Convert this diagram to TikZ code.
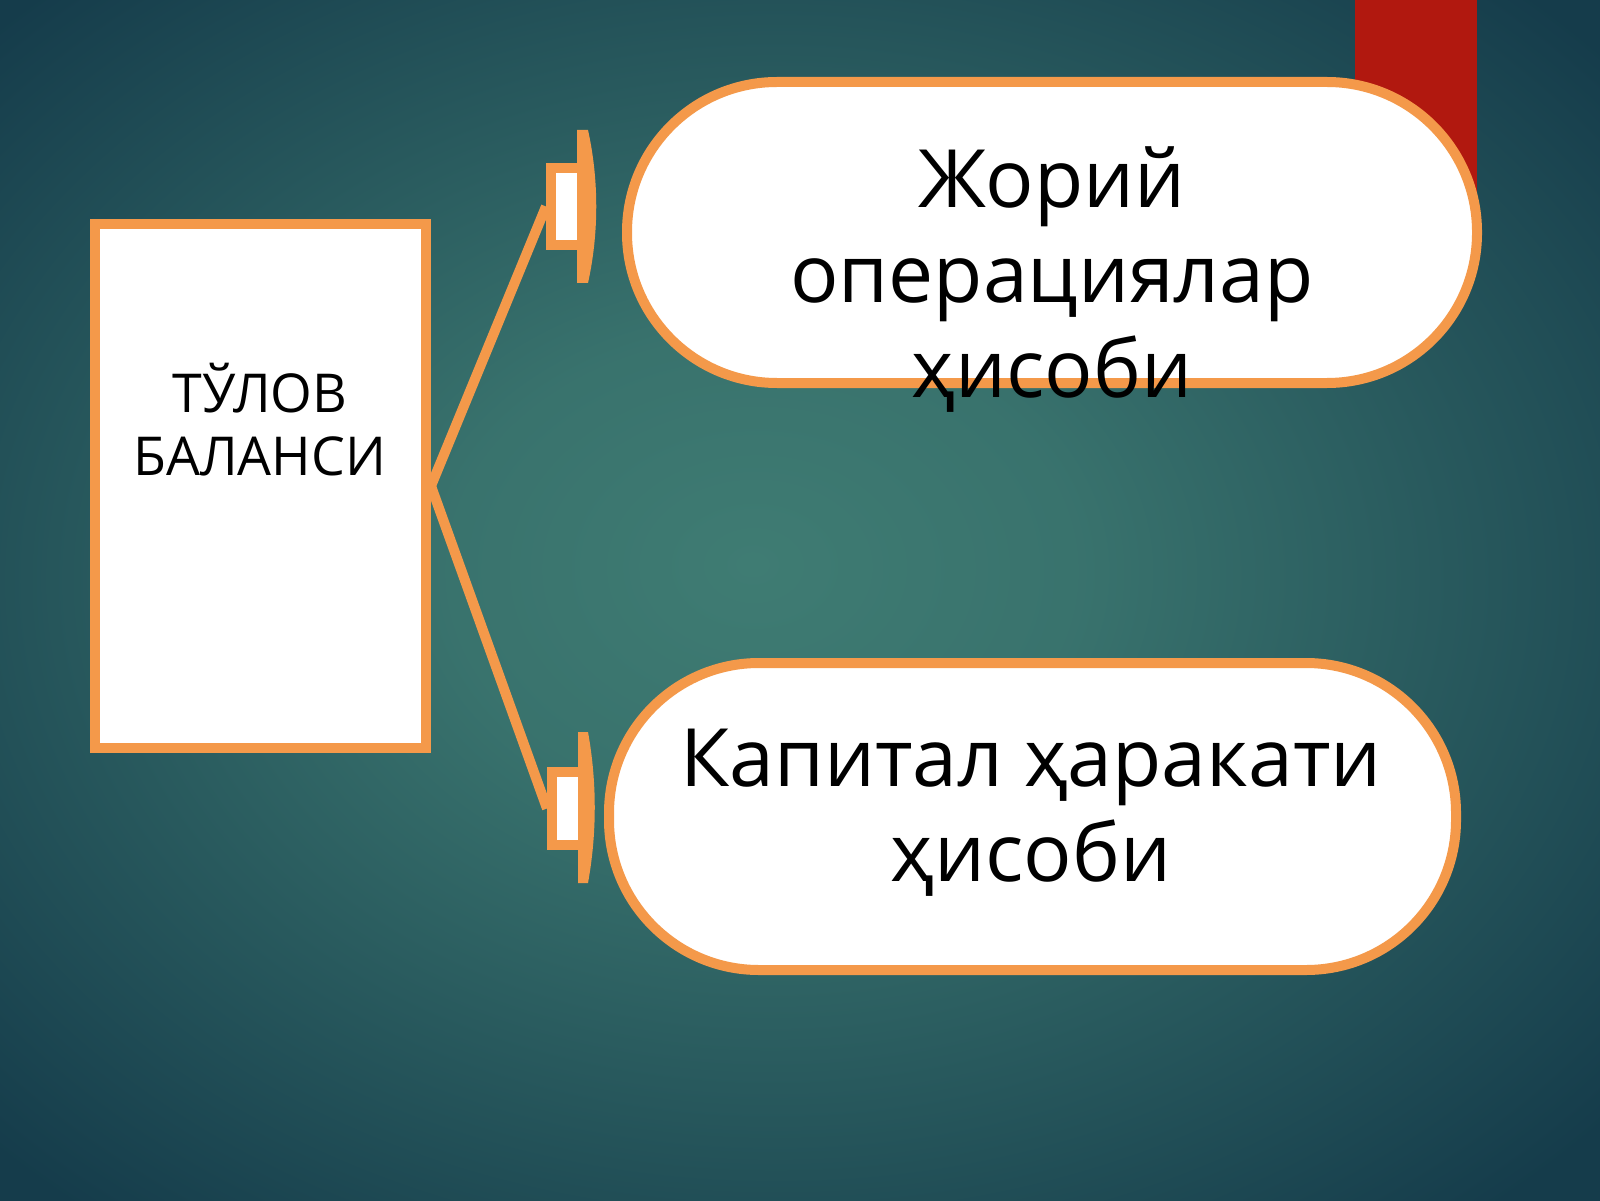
\documentclass[tikz,border=0pt]{standalone}
\usepackage{fontspec}
\setmainfont{Open Sans}
\usetikzlibrary{positioning}
\definecolor{bgmid}{HTML}{3F7C73}
\definecolor{bgdark}{HTML}{153C4B}
\definecolor{frame}{HTML}{F4994A}
\definecolor{redbar}{HTML}{B1180F}
\pgfdeclareradialshading{bgglow}{\pgfpoint{-1.5bp}{1.5bp}}{color(0bp)=(bgmid); color(10bp)=(bgmid!85!bgdark); color(34bp)=(bgdark); color(50bp)=(bgdark)}
\tikzset{box/.style={draw=frame, line width=1mm, fill=white, inner sep=0pt},
         pill/.style={box, rounded corners=1.5cm},
         link/.style={draw=frame, line width=1mm},
         bigtxt/.style={align=center, font=\fontsize{22.9}{27}\selectfont},
         smalltxt/.style={align=center, font=\fontsize{15.25}{17.9}\selectfont},
        }

\begin{document}
\begin{tikzpicture}
        \shade[shading=bgglow](0,0)rectangle(16,12);
        \useasboundingbox(0,0)rectangle(16,12);
        \fill[redbar](13.55,12)rectangle(14.77,9.8);

        \node[box, minimum width=3.31cm, minimum height=5.24cm](bal)at(2.605,7.14){};
        \node[box, minimum width=0.31cm, minimum height=0.77cm](s1)at(5.665,9.935){};
        \node[box, minimum width=0.35cm, minimum height=0.73cm](s2)at(5.695,3.915){};

        \draw[link](bal.east)--(s1.west);
        \draw[link](bal.east)--(s2.west);

        \fill[frame](5.77,10.70)--(5.88,10.70)..controls(5.99,10.2)and(5.99,9.67)..(5.88,9.17)--(5.77,9.17)--cycle;
        \fill[frame](5.78,4.68)--(5.88,4.68)..controls(5.97,4.18)and(5.97,3.67)..(5.88,3.17)--(5.78,3.17)--cycle;

        \node[pill, minimum width=8.50cm, minimum height=3.01cm](cur)at(10.52,9.675){};
        \node[pill, minimum width=8.47cm, minimum height=3.07cm](cap)at(10.325,3.835){};

        \node[smalltxt, anchor=base](tbal)at(2.60,7.25){ТЎЛОВ\\БАЛАНСИ};
        \node[bigtxt, anchor=base](tcur)at(10.52,8.03){Жорий\\операциялар\\ҳисоби};
        \node[bigtxt, anchor=base](tcap)at(10.31,3.19){Капитал ҳаракати\\ҳисоби};
    \end{tikzpicture}
\end{document}
